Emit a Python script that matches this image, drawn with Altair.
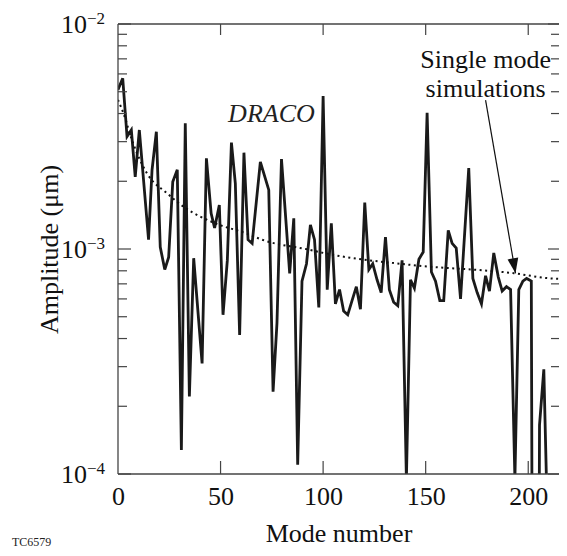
import altair as alt
import pandas as pd

# ---- data ----
modes = [0, 2.3, 4.4, 6.5, 8.4, 10.4, 14.9, 16.6, 18.7, 20.6, 22.8, 24.7, 26.7, 28.9,
         30.9, 32.8, 34.8, 36.9, 41, 43.1, 45.4, 47.1, 49.4, 51.2, 53.3, 55.3, 57.2,
         59.3, 61.4, 63.4, 65.4, 69.4, 73.5, 75.6, 77.5, 79.7, 83.7, 85.7, 87.6, 89.7,
         91.9, 93.8, 95.8, 97.9, 100, 102, 104, 106, 108, 110, 112, 114.1, 116.2, 118.2,
         120.3, 122.3, 124.2, 126.3, 128.3, 130.4, 132.3, 134.4, 136.4, 138.5, 140.6,
         142.6, 144.5, 146.7, 148.8, 150.7, 152.8, 154.8, 156.9, 158.8, 161, 162.9,
         164.9, 167, 171, 173, 175.1, 177.2, 179.2, 181.1, 183.2, 185.4, 187.3, 189.4,
         191.4, 193.5, 195.4, 197.4, 199.2, 201.5, 203.5, 205.5, 207.6, 209.6]
amps = [5.1e-3, 5.74e-3, 3.16e-3, 3.38e-3, 2.09e-3, 3.38e-3, 1.10e-3, 2.25e-3, 3.32e-3,
        1.02e-3, 8.1e-4, 9.2e-4, 1.99e-3, 2.25e-3, 1.28e-4, 3.62e-3, 2.21e-4, 9.1e-4,
        3.1e-4, 2.53e-3, 1.44e-3, 1.24e-3, 1.57e-3, 5.1e-4, 8.9e-4, 2.97e-3, 1.96e-3,
        4.15e-4, 2.68e-3, 1.10e-3, 1.06e-3, 2.44e-3, 1.83e-3, 2.32e-4, 4.68e-4, 2.51e-3,
        7.8e-4, 1.37e-3, 1.1e-4, 7.2e-4, 8.6e-4, 1.28e-3, 1.10e-3, 5.5e-4, 4.79e-3,
        6.6e-4, 1.30e-3, 5.7e-4, 6.6e-4, 5.3e-4, 5.1e-4, 5.9e-4, 6.8e-4, 5.4e-4, 1.61e-3,
        8.1e-4, 8.6e-4, 7.3e-4, 6.4e-4, 1.13e-3, 6.6e-4, 5.8e-4, 5.6e-4, 8.9e-4, 9.5e-5,
        7.3e-4, 6.7e-4, 9.0e-4, 9.7e-4, 4.03e-3, 7.9e-4, 7.2e-4, 5.9e-4, 5.9e-4, 1.21e-3,
        1.06e-3, 1.01e-3, 6.0e-4, 2.29e-3, 7.4e-4, 6.4e-4, 5.7e-4, 7.6e-4, 6.5e-4, 9.6e-4,
        7.5e-4, 6.5e-4, 6.8e-4, 6.6e-4, 9.5e-5, 6.6e-4, 7.2e-4, 7.4e-4, 7.2e-4, 1e-9,
        1.65e-4, 2.92e-4, 5e-5]

fit_modes = [0, 2.7, 6.8, 14.1, 23.9, 32, 47.5, 62.9, 70.2, 93.8, 100.3, 142.6, 193, 211, 218]
fit_amps = [4.6e-3, 4.0e-3, 3.05e-3, 2.17e-3, 1.77e-3, 1.54e-3, 1.30e-3, 1.17e-3, 1.10e-3,
            9.9e-4, 9.6e-4, 8.5e-4, 7.8e-4, 7.4e-4, 7.35e-4]

x_tick_values = [0, 50, 100, 150, 200]
x_inner_ticks = [50, 100, 150, 200]
y_major = [1e-4, 1e-3, 1e-2]
y_major_exp = ["−4", "−3", "−2"]
y_minor = [2e-4, 3e-4, 4e-4, 5e-4, 6e-4, 7e-4, 8e-4, 9e-4,
           2e-3, 3e-3, 4e-3, 5e-3, 6e-3, 7e-3, 8e-3, 9e-3]

labels_txt = ["DRACO", "Single mode", "simulations"]
labels_x = [74.8, 179.2, 179.2]
labels_y = [3.67e-3, 6.37e-3, 4.74e-3]
labels_style = ["italic", "normal", "normal"]

arrow_from = (179.2, 4.59e-3)
arrow_to = (193.8, 7.8e-4)

FONT = "Liberation Serif"
FS = 26
W, H = 441, 450
xs = alt.Scale(domain=[0, 215], nice=False, zero=False)
ys = alt.Scale(type="log", domain=[1e-4, 1e-2], nice=False)
XAX = alt.Axis(values=x_tick_values, title="Mode number", labelPadding=9,
               titlePadding=11, format="d", labelFlush=False)
YAX = alt.Axis(values=y_major, title="Amplitude (μm)", labels=False, titlePadding=56)


def X(f):
    return alt.X(f, scale=xs, axis=XAX, title="Mode number")


def Y(f):
    return alt.Y(f, scale=ys, axis=YAX, title="Amplitude (μm)")


df = pd.DataFrame({"mode": modes, "amp": amps})
fit = pd.DataFrame({"mode": fit_modes, "amp": fit_amps})

line = alt.Chart(df).mark_line(clip=True, color="#1a1a1a", strokeWidth=2.8).encode(
    x=X("mode:Q"), y=Y("amp:Q"))

dotted = alt.Chart(fit).mark_line(clip=True, color="#111", strokeWidth=2,
                                  strokeDash=[2, 3.5], interpolate="monotone").encode(
    x=X("mode:Q"), y=Y("amp:Q"))

tick_color = "#444"
ymaj = pd.DataFrame({"amp": y_major, "exp": y_major_exp})
ymin = pd.DataFrame({"amp": y_minor})
xin = pd.DataFrame({"mode": x_inner_ticks})


def yticks(data, x0, x1):
    return alt.Chart(data).mark_rule(color=tick_color, strokeWidth=1.2).encode(
        y=Y("amp:Q"), x=alt.value(x0), x2=alt.value(x1))


def xticks(data, y0, y1):
    return alt.Chart(data).mark_rule(color=tick_color, strokeWidth=1.2).encode(
        x=X("mode:Q"), y=alt.value(y0), y2=alt.value(y1))


ticks = [
    yticks(ymaj, 0, 13), yticks(ymin, 0, 9),
    yticks(ymaj, W, W - 11), yticks(ymin, W, W - 8),
    xticks(xin, H, H - 13), xticks(xin, 0, 11),
]

# frame (left, top, bottom); the right edge runs off the picture in the reference
frame_df = pd.DataFrame({"k": [0]})
frame = [
    alt.Chart(frame_df).mark_rule(color="#444", strokeWidth=1.3).encode(
        x=alt.value(0), y=alt.value(0), y2=alt.value(H)),
    alt.Chart(frame_df).mark_rule(color="#444", strokeWidth=1.3).encode(
        y=alt.value(0), x=alt.value(0), x2=alt.value(W)),
    alt.Chart(frame_df).mark_rule(color="#444", strokeWidth=1.3).encode(
        y=alt.value(H), x=alt.value(0), x2=alt.value(W)),
]

# y labels as 10 with a raised exponent
ten = alt.Chart(ymaj).mark_text(font=FONT, fontSize=FS, color="#111", align="right",
                                baseline="middle", dy=1).encode(
    y=Y("amp:Q"), x=alt.value(-31), text=alt.value("10"))
sup = alt.Chart(ymaj).mark_text(font=FONT, fontSize=17, color="#111", align="left",
                                baseline="middle", dy=-5).encode(
    y=Y("amp:Q"), x=alt.value(-31), text="exp:N")

lab = pd.DataFrame({"t": labels_txt, "mode": labels_x, "amp": labels_y, "s": labels_style})
texts_it = alt.Chart(lab[lab.s == "italic"]).mark_text(
    font=FONT, fontSize=FS, fontStyle="italic", color="#222", baseline="alphabetic"
).encode(x=X("mode:Q"), y=Y("amp:Q"), text="t:N")
texts_n = alt.Chart(lab[lab.s == "normal"]).mark_text(
    font=FONT, fontSize=FS, color="#111", baseline="alphabetic"
).encode(x=X("mode:Q"), y=Y("amp:Q"), text="t:N")

arr = pd.DataFrame({"mode": [arrow_from[0]], "amp": [arrow_from[1]],
                    "mode2": [arrow_to[0]], "amp2": [arrow_to[1]]})
arrow_line = alt.Chart(arr).mark_rule(color="#111", strokeWidth=1.2).encode(
    x=X("mode:Q"), x2="mode2:Q", y=Y("amp:Q"), y2="amp2:Q")
arrow_head = alt.Chart(arr).mark_point(
    shape="M0,0 L-0.36,-1 L0.36,-1 Z", filled=True, color="#111", opacity=1,
    size=900, angle=350).encode(x=X("mode2:Q"), y=Y("amp2:Q"))

tc = alt.Chart(pd.DataFrame({"t": ["TC6579"]})).mark_text(
    font=FONT, fontSize=12, color="#222", align="left", baseline="alphabetic"
).encode(text="t:N", x=alt.value(-106), y=alt.value(522))

chart = alt.layer(line, dotted, *ticks, *frame, ten, sup, texts_it, texts_n,
                  arrow_line, arrow_head, tc).properties(
    width=W, height=H,
    autosize=alt.AutoSizeParams(type="none"),
    padding={"left": 110, "top": 16, "right": 0, "bottom": 74},
).configure_axis(
    labelFont=FONT, titleFont=FONT, labelFontSize=FS, titleFontSize=FS,
    titleFontWeight="normal", labelColor="#111", titleColor="#111",
    grid=False, ticks=False, domain=False,
).configure_view(stroke=None)

chart.save("out.html", embed_options={"renderer": "svg", "actions": False})
